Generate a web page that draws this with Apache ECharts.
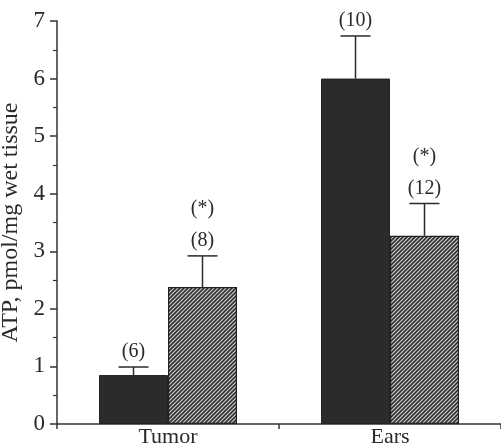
<!DOCTYPE html>
<html><head><meta charset="utf-8">
<script src="https://cdn.jsdelivr.net/npm/echarts@6/dist/echarts.min.js"></script>
<style>html,body{margin:0;padding:0;background:#fff}#c{width:501px;height:445px}</style>
</head><body><div id="c"></div>
<script>
var categories = ['Tumor', 'Ears'];
var solidValues = [0.85, 6.0];
var solidErr = [0.99, 6.74];
var hatchValues = [2.38, 3.27];
var hatchErr = [2.92, 3.83];
var solidLabels = ['(6)', '(10)'];
var hatchLabels = ['(*)\n(8)', '(*)\n(12)'];
var yTicks = [0, 1, 2, 3, 4, 5, 6, 7];

var pc = document.createElement('canvas');
pc.width = 4; pc.height = 4;
var g = pc.getContext('2d');
g.fillStyle = '#d0d0d0'; g.fillRect(0, 0, 4, 4);
g.strokeStyle = '#303030'; g.lineWidth = 1.6;
g.beginPath();
g.moveTo(-1, 5); g.lineTo(5, -1);
g.moveTo(-1, 1); g.lineTo(1, -1);
g.moveTo(3, 5); g.lineTo(5, 3);
g.stroke();

var chart = echarts.init(document.getElementById('c'));
var FONT = 'Liberation Serif';
var BW = 69;

function errSeries(vals, errs, labels, dir) {
  return {
    type: 'custom',
    z: 5,
    data: categories.map(function (c, i) { return [i, vals[i], errs[i]]; }),
    renderItem: function (params, api) {
      var b = api.coord([api.value(0), api.value(1)]);
      var t = api.coord([api.value(0), api.value(2)]);
      var x = b[0] + dir * BW / 2;
      var cap = 15;
      var lbl = labels[params.dataIndex];
      return {
        type: 'group',
        children: [
          { type: 'line', shape: { x1: x, y1: b[1], x2: x, y2: t[1] }, style: { stroke: '#2a2a2a', lineWidth: 1.5 } },
          { type: 'line', shape: { x1: x - cap, y1: t[1], x2: x + cap, y2: t[1] }, style: { stroke: '#2a2a2a', lineWidth: 1.5 } },
          { type: 'text', style: { text: lbl, x: x, y: t[1] + 1, textAlign: 'center', textVerticalAlign: 'bottom', fontFamily: FONT, fontSize: 20, lineHeight: 32, fill: '#2a2a2a' } }
        ]
      };
    }
  };
}

chart.setOption({
  animation: false,
  backgroundColor: '#fff',
  grid: { left: 57, right: 0, top: 21, bottom: 21, outerBoundsMode: 'none', containLabel: false },
  xAxis: {
    type: 'category',
    data: categories,
    boundaryGap: true,
    axisLine: { lineStyle: { color: '#333', width: 1.5 } },
    axisTick: { show: true, length: 5, lineStyle: { color: '#333', width: 1.5 } },
    axisLabel: { fontFamily: FONT, fontSize: 22, color: '#2a2a2a', margin: 2 }
  },
  yAxis: {
    type: 'value',
    min: 0, max: 7, interval: 1,
    name: 'ATP, pmol/mg wet tissue',
    nameLocation: 'middle',
    nameGap: 28,
    nameTextStyle: { fontFamily: FONT, fontSize: 24, color: '#2a2a2a' },
    axisLine: { show: true, lineStyle: { color: '#333', width: 1.5 } },
    axisTick: { show: true, length: 7, lineStyle: { color: '#333', width: 1.5 } },
    minorTick: { show: true, splitNumber: 2, length: 4, lineStyle: { color: '#333', width: 1.2 } },
    splitLine: { show: false },
    axisLabel: { fontFamily: FONT, fontSize: 23, color: '#2a2a2a', margin: 12,
      formatter: function (v) { return yTicks.indexOf(v) >= 0 ? String(v) : ''; } }
  },
  series: [
    { type: 'bar', data: solidValues, barWidth: BW, barGap: '0%',
      itemStyle: { color: '#2b2b2b', borderColor: '#222', borderWidth: 1 } },
    { type: 'bar', data: hatchValues, barWidth: BW, barGap: '0%',
      itemStyle: { color: { image: pc, repeat: 'repeat' }, borderColor: '#222', borderWidth: 1.2 } },
    errSeries(solidValues, solidErr, solidLabels, -1),
    errSeries(hatchValues, hatchErr, hatchLabels, 1)
  ]
});
</script></body></html>
